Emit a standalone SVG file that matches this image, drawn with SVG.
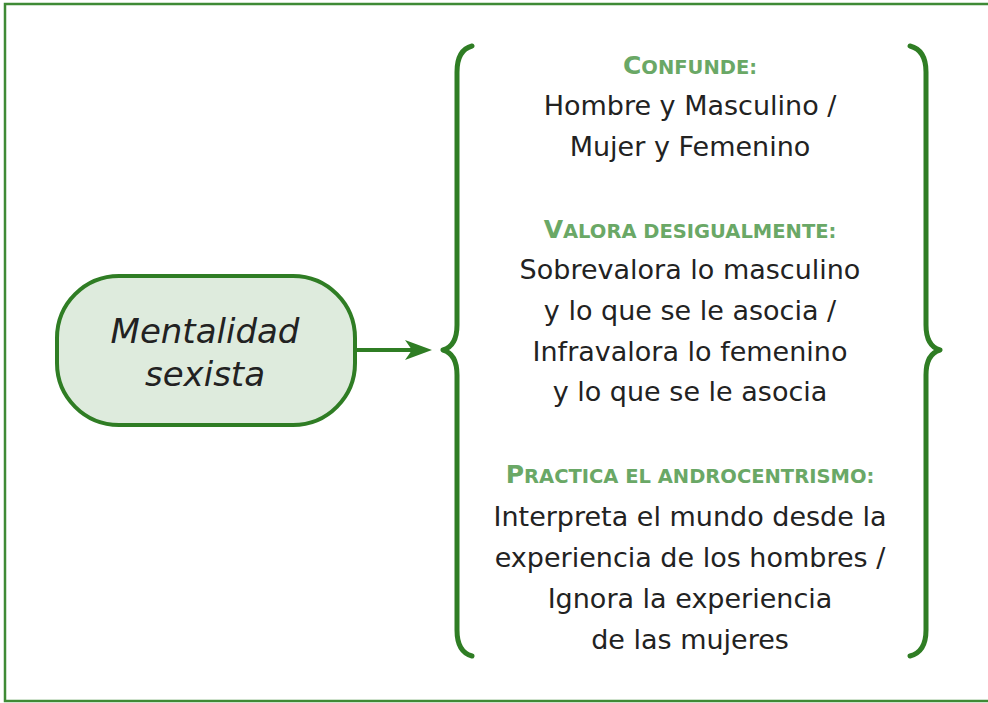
<svg xmlns="http://www.w3.org/2000/svg" width="988" height="703" viewBox="0 0 988 703">
<style>
.frame{fill:none;stroke:#3f8a35;stroke-width:2.5}
.box{fill:#deebdd;stroke:#2f7d24;stroke-width:4}
.brace{fill:none;stroke:#2f7d24;stroke-width:5;stroke-linecap:round;stroke-linejoin:round}
.conn{fill:none;stroke:#2f7d24;stroke-width:4}
.t{font-family:"DejaVu Sans",Verdana,sans-serif;font-size:27px;fill:#222;text-anchor:middle}
.n{font-family:"DejaVu Sans",Verdana,sans-serif;font-size:34px;font-style:italic;fill:#222;text-anchor:middle}
.h{font-family:"DejaVu Sans",Verdana,sans-serif;font-weight:bold;font-size:19.5px;fill:#6aa866;text-anchor:middle}
.hc{font-size:25px}
</style>
<rect class="frame" x="5" y="4" width="990" height="697"/>
<g id="node-mentalidad">
<rect class="box" x="57" y="276" width="298" height="149" rx="62" ry="62"/>
<text class="n" x="205" y="343">Mentalidad</text>
<text class="n" x="205" y="386">sexista</text>
</g>
<g id="connectors">
<path class="conn" d="M355,350 L420,350"/>
<path d="M405,340 L432,350 L405,360 L412,350 Z" fill="#2f7d24"/>
</g>
<g id="brace-left">
<path class="brace" d="M472,46 Q457,50 457,72 L457,325 Q457,346 443,350 Q457,354 457,375 L457,630 Q457,652 472,656"/>
</g>
<g id="brace-right">
<path class="brace" d="M910,46 Q926,50 926,72 L926,325 Q926,346 940,350 Q926,354 926,375 L926,630 Q926,652 910,656"/>
</g>
<g id="text-list">
<text class="h" x="690" y="74"><tspan class="hc">C</tspan>ONFUNDE:</text>
<text class="t" x="690" y="115">Hombre y Masculino /</text>
<text class="t" x="690" y="156">Mujer y Femenino</text>
<text class="h" x="690" y="238"><tspan class="hc">V</tspan>ALORA DESIGUALMENTE:</text>
<text class="t" x="690" y="279">Sobrevalora lo masculino</text>
<text class="t" x="690" y="320">y lo que se le asocia /</text>
<text class="t" x="690" y="361">Infravalora lo femenino</text>
<text class="t" x="690" y="401">y lo que se le asocia</text>
<text class="h" x="690" y="483"><tspan class="hc">P</tspan>RACTICA EL ANDROCENTRISMO:</text>
<text class="t" x="690" y="526">Interpreta el mundo desde la</text>
<text class="t" x="690" y="567">experiencia de los hombres /</text>
<text class="t" x="690" y="608">Ignora la experiencia</text>
<text class="t" x="690" y="649">de las mujeres</text>
</g>
</svg>
